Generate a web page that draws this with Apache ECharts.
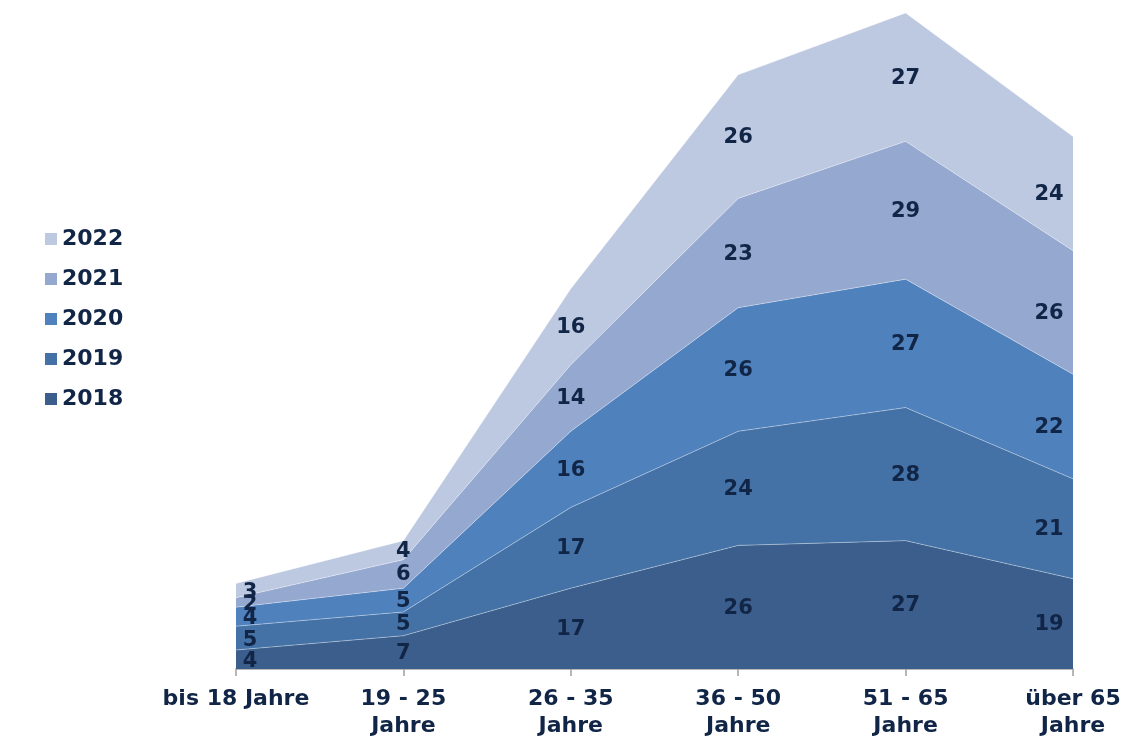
<!DOCTYPE html>
<html><head><meta charset="utf-8">
<script src="https://cdn.jsdelivr.net/npm/echarts@6/dist/echarts.min.js"></script>
<style>html,body{margin:0;padding:0;background:#fff}#c{width:1126px;height:740px}</style>
</head><body><div id="c"></div>
<script>
const categories = ['bis 18 Jahre', '19 - 25\nJahre', '26 - 35\nJahre', '36 - 50\nJahre', '51 - 65\nJahre', 'über 65\nJahre'];
const seriesNames = ['2018', '2019', '2020', '2021', '2022'];
const v2018 = [4, 7, 17, 26, 27, 19];
const v2019 = [5, 5, 17, 24, 28, 21];
const v2020 = [4, 5, 16, 26, 27, 22];
const v2021 = [2, 6, 14, 23, 29, 26];
const v2022 = [3, 4, 16, 26, 27, 24];
const colors = ['#3b5e8c', '#4472a6', '#4f81bd', '#95a8d0', '#bdc8e1'];
const textColor = '#112546';
const allVals = [v2018, v2019, v2020, v2021, v2022];

const series = [];
const cum = categories.map(() => 0);
allVals.forEach((vals, si) => {
  series.push({
    name: seriesNames[si], type: 'line', stack: 'total', data: vals,
    symbol: 'none', smooth: false,
    lineStyle: { width: 0.8, color: 'rgba(255,255,255,0.45)' },
    areaStyle: { color: colors[si], opacity: 1 },
    itemStyle: { color: colors[si] },
    z: 2
  });
  const mids = vals.map((v, i) => {
    const m = cum[i] + v / 2;
    cum[i] += v;
    let off = [0, 1];
    if (i === 0) off = [14, 2];
    if (i === categories.length - 1) off = [-24, 1];
    return { value: [i, m], raw: v, label: { offset: off } };
  });
  series.push({
    type: 'scatter', data: mids, symbolSize: 0, silent: true, z: 5,
    itemStyle: { opacity: 1 },
    label: {
      show: true, position: 'inside', color: textColor, opacity: 1,
      fontFamily: 'DejaVu Sans', fontWeight: 'bold', fontSize: 21,
      formatter: p => String(p.data.raw)
    }
  });
});

const chart = echarts.init(document.getElementById('c'));
chart.setOption({
  animation: false,
  color: colors,
  grid: { left: 236, right: 53, top: 13, bottom: 70, containLabel: false },
  legend: {
    orient: 'vertical', left: 40, top: 223,
    data: ['2022', '2021', '2020', '2019', '2018'],
    icon: 'rect', itemWidth: 12, itemHeight: 12, itemGap: 18,
    textStyle: { color: textColor, fontFamily: 'DejaVu Sans', fontWeight: 'bold', fontSize: 22 }
  },
  xAxis: {
    type: 'category', data: categories, boundaryGap: false,
    axisLine: { lineStyle: { color: '#a0a0a0', width: 1.5 } },
    axisTick: { show: true, alignWithLabel: true, length: 7, lineStyle: { color: '#a0a0a0', width: 1.5 } },
    axisLabel: { color: textColor, fontFamily: 'DejaVu Sans', fontWeight: 'bold', fontSize: 22, lineHeight: 27, margin: 17, interval: 0 }
  },
  yAxis: { type: 'value', min: 0, max: 138, show: false, splitLine: { show: false } },
  series: series
});
</script></body></html>
